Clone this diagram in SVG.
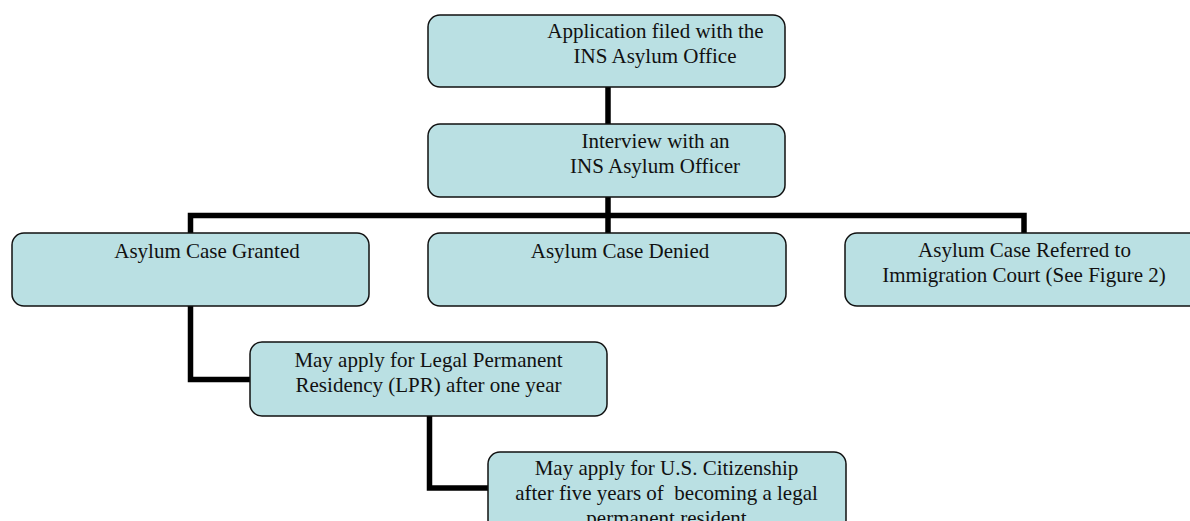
<svg xmlns="http://www.w3.org/2000/svg" width="1190" height="521" viewBox="0 0 1190 521">
<style>
.box{fill:#BAE0E3;stroke:#111;stroke-width:1.5}
.t{font-family:"Liberation Serif","Times New Roman",serif;font-size:21px;fill:#111;text-anchor:middle}
.c{fill:none;stroke:#000;stroke-width:5.5;stroke-linejoin:miter;stroke-linecap:butt}
</style>
<rect width="1190" height="521" fill="#fff"/>
<g id="connectors">
<path class="c" d="M608 87V124"/>
<path class="c" d="M608 197V233"/>
<path class="c" d="M190.5 233V215.5H1024V233"/>
<path class="c" d="M190.5 306V379.5H250"/>
<path class="c" d="M429.5 416V488H488"/>
</g>
<g id="n1">
<rect class="box" x="428" y="15" width="357" height="72" rx="12"/>
<text class="t" x="655.5" y="38">Application filed with the</text>
<text class="t" x="655" y="63">INS Asylum Office</text>
</g>
<g id="n2">
<rect class="box" x="428" y="124" width="357" height="73" rx="12"/>
<text class="t" x="655.5" y="148">Interview with an</text>
<text class="t" x="655" y="173">INS Asylum Officer</text>
</g>
<g id="n3">
<rect class="box" x="12" y="233" width="357" height="73" rx="12"/>
<text class="t" x="207" y="258">Asylum Case Granted</text>
</g>
<g id="n4">
<rect class="box" x="428" y="233" width="358" height="73" rx="12"/>
<text class="t" x="620" y="258">Asylum Case Denied</text>
</g>
<g id="n5">
<rect class="box" x="845" y="233" width="358" height="73" rx="12"/>
<text class="t" x="1024.5" y="257">Asylum Case Referred to</text>
<text class="t" x="1024" y="282">Immigration Court (See Figure 2)</text>
</g>
<g id="n6">
<rect class="box" x="250" y="342" width="357" height="74" rx="12"/>
<text class="t" x="428.5" y="367">May apply for Legal Permanent</text>
<text class="t" x="428.5" y="392">Residency (LPR) after one year</text>
</g>
<g id="n7">
<rect class="box" x="488" y="452" width="358" height="80" rx="12"/>
<text class="t" x="666.5" y="475">May apply for U.S. Citizenship</text>
<text class="t" x="666.5" y="500" xml:space="preserve">after five years of  becoming a legal</text>
<text class="t" x="666.5" y="525">permanent resident</text>
</g>
</svg>
